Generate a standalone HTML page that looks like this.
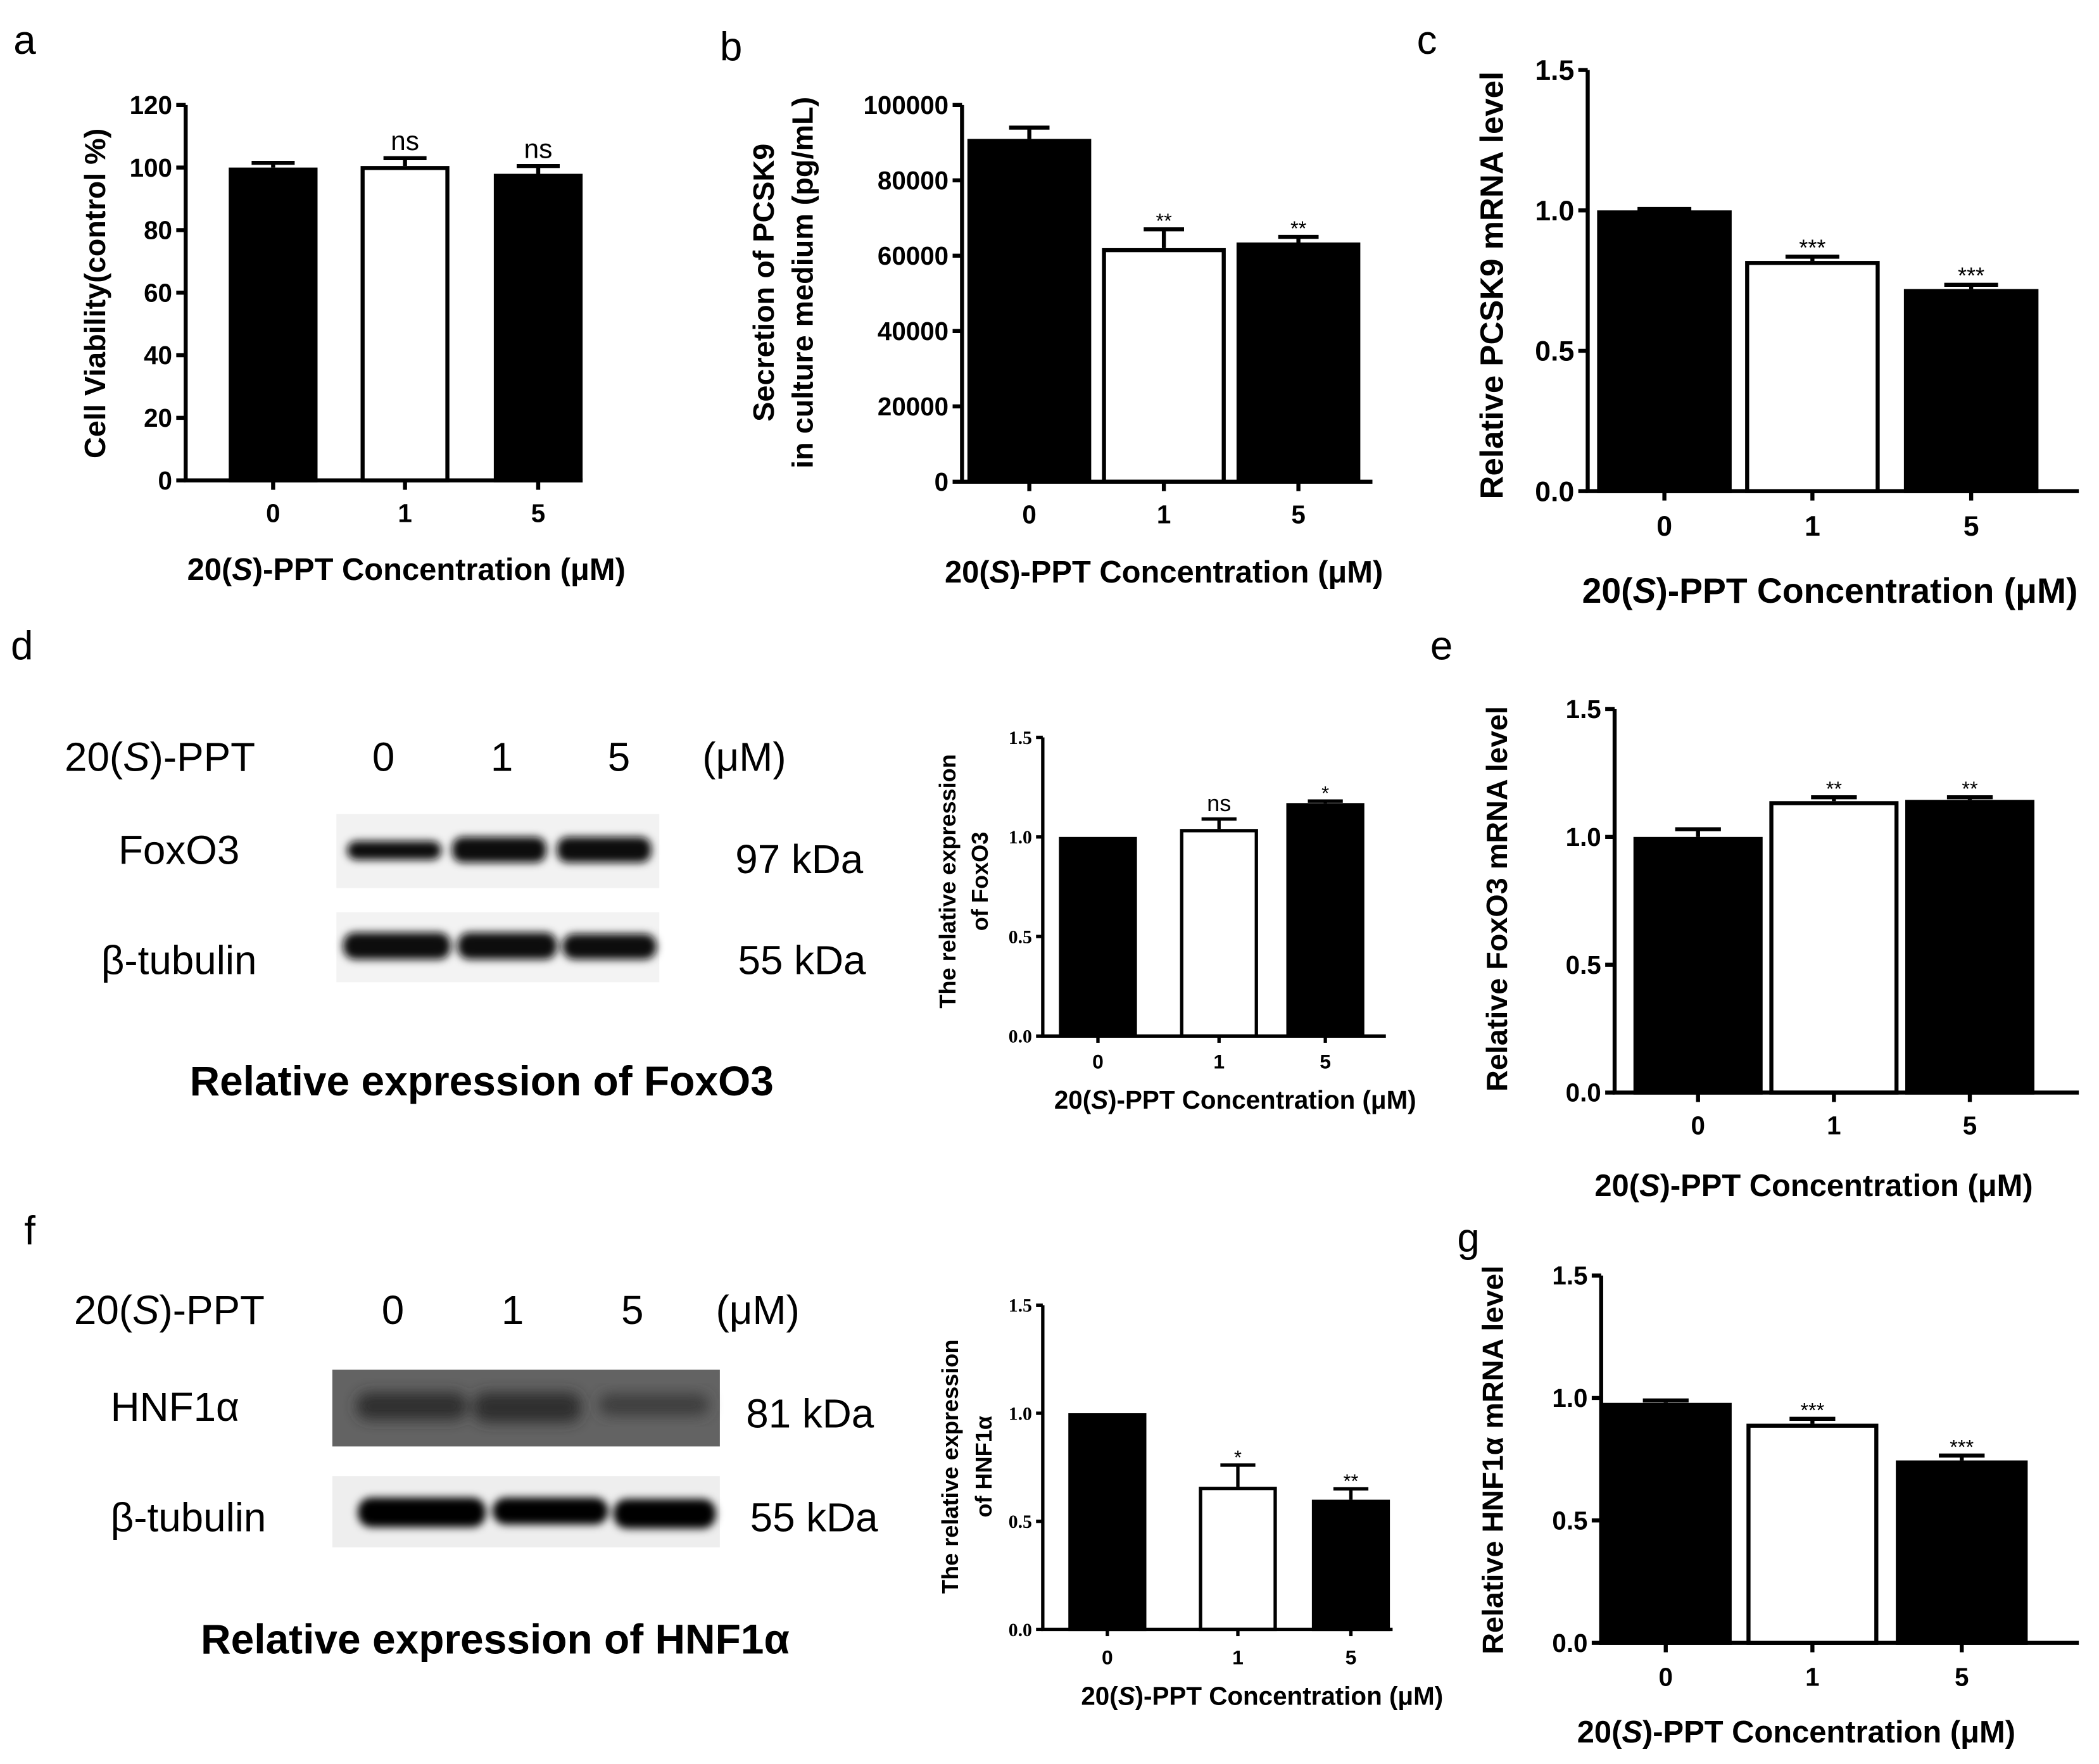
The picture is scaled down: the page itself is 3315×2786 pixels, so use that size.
<!DOCTYPE html>
<html><head><meta charset="utf-8"><style>
html,body{margin:0;padding:0;background:#fff;}
svg{display:block;}
text{font-family:"Liberation Sans",Arial,sans-serif;fill:#000;}
.b{font-weight:bold;}
.serif{font-family:"Liberation Serif",serif;}
</style></head><body>
<svg id="fig" width="3315" height="2786" viewBox="0 0 1560 1311" xmlns="http://www.w3.org/2000/svg">
<defs>
<filter id="blur" x="-20%" y="-50%" width="140%" height="200%"><feGaussianBlur stdDeviation="3"/></filter>
<filter id="blur2" x="-20%" y="-50%" width="140%" height="200%"><feGaussianBlur stdDeviation="5"/></filter>
</defs>
<g id="static">
<text x="10" y="40" font-size="30">a</text>
<text x="535" y="45" font-size="30">b</text>
<text x="1053" y="40" font-size="30">c</text>
<text x="8" y="490" font-size="30">d</text>
<text x="1063" y="490" font-size="30">e</text>
<text x="18" y="925" font-size="30">f</text>
<text x="1083" y="930" font-size="30">g</text>

<!-- blot d -->
<g>
<text x="48" y="573" font-size="30">20(<tspan font-style="italic">S</tspan>)-PPT</text>
<text x="285" y="573" font-size="30" text-anchor="middle">0</text>
<text x="373" y="573" font-size="30" text-anchor="middle">1</text>
<text x="460" y="573" font-size="30" text-anchor="middle">5</text>
<text x="522" y="573" font-size="30">(μM)</text>
<text x="133" y="642" font-size="30" text-anchor="middle">FoxO3</text>
<text x="133" y="724" font-size="30" text-anchor="middle">β-tubulin</text>
<text x="594" y="649" font-size="30" text-anchor="middle">97 kDa</text>
<text x="596" y="724" font-size="30" text-anchor="middle">55 kDa</text>
<rect x="250" y="605" width="240" height="55" fill="#f2f2f2"/>
<rect x="250" y="678" width="240" height="52" fill="#f3f3f3"/>
<g filter="url(#blur)" fill="#111">
<rect x="258" y="625" width="70" height="14" rx="7"/>
<rect x="336" y="622" width="70" height="19" rx="8"/>
<rect x="414" y="622" width="70" height="19" rx="8"/>
<rect x="255" y="693" width="80" height="20" rx="9"/>
<rect x="340" y="693" width="74" height="20" rx="9"/>
<rect x="418" y="694" width="70" height="19" rx="9"/>
</g>
<text x="358" y="814" font-size="31" class="b" text-anchor="middle">Relative expression of FoxO3</text>
</g>

<!-- blot f -->
<g>
<text x="55" y="984" font-size="30">20(<tspan font-style="italic">S</tspan>)-PPT</text>
<text x="292" y="984" font-size="30" text-anchor="middle">0</text>
<text x="381" y="984" font-size="30" text-anchor="middle">1</text>
<text x="470" y="984" font-size="30" text-anchor="middle">5</text>
<text x="532" y="984" font-size="30">(μM)</text>
<text x="130" y="1056" font-size="30" text-anchor="middle">HNF1α</text>
<text x="140" y="1138" font-size="30" text-anchor="middle">β-tubulin</text>
<text x="602" y="1061" font-size="30" text-anchor="middle">81 kDa</text>
<text x="605" y="1138" font-size="30" text-anchor="middle">55 kDa</text>
<rect x="247" y="1018" width="288" height="57" fill="#636363"/>
<rect x="247" y="1097" width="288" height="53" fill="#eeeeee"/>
<g filter="url(#blur2)" fill="#2e2e2e">
<rect x="265" y="1035" width="82" height="20" rx="9"/>
<rect x="352" y="1035" width="80" height="22" rx="9"/>
</g>
<g filter="url(#blur2)" fill="#3c3c3c"><rect x="445" y="1036" width="82" height="16" rx="8"/></g>
<g filter="url(#blur)" fill="#000">
<rect x="266" y="1113" width="95" height="22" rx="10"/>
<rect x="366" y="1113" width="86" height="20" rx="10"/>
<rect x="456" y="1114" width="76" height="22" rx="10"/>
</g>
<text x="368" y="1229" font-size="31" class="b" text-anchor="middle">Relative expression of HNF1α</text>
</g>
</g>
<g id="charts"></g>
</svg>
<script>
// Panel data arrays
const categories = ["0","1","5"];
const aValues = [100, 100.5, 98];
const aErrors = [1.5, 2.5, 2.5];
const aSig = ["", "ns", "ns"];
const aTicks = [0,20,40,60,80,100,120];
const bValues = [91000, 62000, 63500];
const bErrors = [3000, 5000, 1500];
const bSig = ["", "**", "**"];
const bTicks = [0,20000,40000,60000,80000,100000];
const cValues = [1.0, 0.82, 0.72];
const cErrors = [0.005, 0.015, 0.015];
const cSig = ["", "***", "***"];
const dValues = [1.0, 1.04, 1.17];
const dErrors = [0, 0.05, 0.01];
const dSig = ["", "ns", "*"];
const eValues = [1.0, 1.14, 1.145];
const eErrors = [0.03, 0.015, 0.01];
const eSig = ["", "**", "**"];
const fValues = [1.0, 0.66, 0.60];
const fErrors = [0, 0.10, 0.05];
const fSig = ["", "*", "**"];
const gValues = [0.98, 0.895, 0.745];
const gErrors = [0.01, 0.02, 0.02];
const gSig = ["", "***", "***"];
const relTicks = [0, 0.5, 1.0, 1.5];
const relTickLabels = ["0.0","0.5","1.0","1.5"];

const NS = "http://www.w3.org/2000/svg";
const root = document.getElementById("charts");
function mk(tag, attrs, parent, txt){
  const e = document.createElementNS(NS, tag);
  for (const k in attrs) e.setAttribute(k, attrs[k]);
  if (txt !== undefined) e.textContent = txt;
  parent.appendChild(e);
  return e;
}
function chart(p){
  const g = mk("g", {}, root);
  
  
  const max = p.ticks[p.ticks.length-1];
  const y = v => p.y0 - (v/max)*(p.y0 - p.yTop);
  const lw = p.lw;
  p.values.forEach((v,i)=>{
    const cx = p.centers[i];
    const top = y(v + p.errors[i]);
    if (p.errors[i] > 0) {
      const eb = mk("path", {d:`M${cx} ${y(v)} V${top} M${cx-p.capW/2} ${top} H${cx+p.capW/2}`, stroke:"#000", "stroke-width":lw, fill:"none"}, g);
      
      
    }
    const fill = i===1 ? "#fff" : "#000";
    const r = mk("rect", {x:cx-p.barW/2+lw/2, y:y(v)+lw/2, width:p.barW-lw, height:Math.max(0,p.y0-y(v)-lw/2), fill:fill, stroke:"#000", "stroke-width":lw}, g);
    
    
    if (p.sig[i]) {
      const s = mk("text", {x:cx, y:top - (p.sig[i]==="ns"?6:1), "font-size": p.sig[i]==="ns"?p.sigFs:p.sigFs*0.85, "text-anchor":"middle"}, g, p.sig[i]);
      
      
    }
  });
  const ax = mk("path", {d:`M${p.x0} ${p.yTop} V${p.y0} H${p.xEnd}`, stroke:"#000", "stroke-width":lw, fill:"none"}, g);
  
  
  p.ticks.forEach((t,i)=>{
    mk("line", {x1:p.x0-p.tick, x2:p.x0, y1:y(t), y2:y(t), stroke:"#000", "stroke-width":lw}, g);
    const tl = mk("text", {x:p.x0-p.tick-3, y:y(t)+p.tickFs*0.35, "font-size":p.tickFs, "text-anchor":"end", class:p.serif?"b serif":"b"}, g, p.tickLabels ? p.tickLabels[i] : String(t));
    
    
  });
  categories.forEach((c,i)=>{
    mk("line", {x1:p.centers[i], x2:p.centers[i], y1:p.y0, y2:p.y0+p.tick, stroke:"#000", "stroke-width":lw}, g);
    const xl = mk("text", {x:p.centers[i], y:p.labY, "font-size":p.xFs, "text-anchor":"middle", class:"b"}, g, c);
    
    
  });
  const t = mk("text", {x:p.titleX, y:p.titleY, "font-size":p.titleFs, "text-anchor":"middle", class:"b"}, g);
  
  
  t.appendChild(document.createTextNode("20("));
  mk("tspan", {"font-style":"italic"}, t, "S");
  t.appendChild(document.createTextNode(")-PPT Concentration (μM)"));
  p.yLabel.forEach((line,k)=>{
    const lx = p.yLabX[k];
    const yl = mk("text", {x:lx, y:p.yLabY, "font-size":p.yFs, "text-anchor":"middle", class:"b", transform:`rotate(-90 ${lx} ${p.yLabY})`}, g, line);
    
    
  });
}
const big = {lw:3, tick:7, tickFs:19, xFs:19, titleFs:23, yFs:22, sigFs:20, capW:34};
chart(Object.assign({}, big, {name:"chart-a", values:aValues, errors:aErrors, sig:aSig, ticks:aTicks,
  x0:138, yTop:78, y0:357, xEnd:433, centers:[203,301,400], barW:66, capW:32,
  labY:388, titleX:302, titleY:431, yLabel:["Cell Viability(control %)"], yLabX:[78], yLabY:218}));
chart(Object.assign({}, big, {name:"chart-b", values:bValues, errors:bErrors, sig:bSig, ticks:bTicks,
  x0:715, yTop:78, y0:358, xEnd:1020, centers:[765,865,965], barW:92, capW:30, sigFs:18,
  labY:389, titleX:865, titleY:433, yLabel:["Secretion of PCSK9","in culture medium (pg/mL)"], yLabX:[575,604], yLabY:210}));
chart(Object.assign({}, big, {name:"chart-c", values:cValues, errors:cErrors, sig:cSig, ticks:relTicks, tickLabels:relTickLabels,
  x0:1180, yTop:52, y0:365, xEnd:1545, centers:[1237,1347,1465], barW:100, capW:40, tickFs:21, xFs:21, titleFs:26, yFs:24,
  labY:398, titleX:1360, titleY:448, yLabel:["Relative PCSK9 mRNA level"], yLabX:[1117], yLabY:212}));
chart(Object.assign({}, big, {name:"chart-d", values:dValues, errors:dErrors, sig:dSig, ticks:relTicks, tickLabels:relTickLabels, serif:true,
  x0:775, yTop:548, y0:770, xEnd:1030, centers:[816,906,985], barW:58, capW:26, lw:2.5, tick:5, tickFs:14, xFs:15, titleFs:19, yFs:17, sigFs:17,
  labY:794, titleX:918, titleY:824, yLabel:["The relative expression","of FoxO3"], yLabX:[710,734], yLabY:655}));
chart(Object.assign({}, big, {name:"chart-e", values:eValues, errors:eErrors, sig:eSig, ticks:relTicks, tickLabels:relTickLabels,
  x0:1200, yTop:527, y0:812, xEnd:1545, centers:[1262,1363,1464], barW:96, capW:34, sigFs:18,
  labY:843, titleX:1348, titleY:889, yLabel:["Relative FoxO3 mRNA level"], yLabX:[1120], yLabY:668}));
chart(Object.assign({}, big, {name:"chart-f", values:fValues, errors:fErrors, sig:fSig, ticks:relTicks, tickLabels:relTickLabels, serif:true,
  x0:775, yTop:970, y0:1211, xEnd:1035, centers:[823,920,1004], barW:58, capW:26, lw:2.5, tick:5, tickFs:14, xFs:15, titleFs:19, yFs:17, sigFs:17,
  labY:1237, titleX:938, titleY:1267, yLabel:["The relative expression","of HNF1α"], yLabX:[712,737], yLabY:1090}));
chart(Object.assign({}, big, {name:"chart-g", values:gValues, errors:gErrors, sig:gSig, ticks:relTicks, tickLabels:relTickLabels,
  x0:1190, yTop:948, y0:1221, xEnd:1545, centers:[1238,1347,1458], barW:98, capW:34, sigFs:18,
  labY:1253, titleX:1335, titleY:1295, yLabel:["Relative HNF1α mRNA level"], yLabX:[1117], yLabY:1085}));
</script>
</body></html>
